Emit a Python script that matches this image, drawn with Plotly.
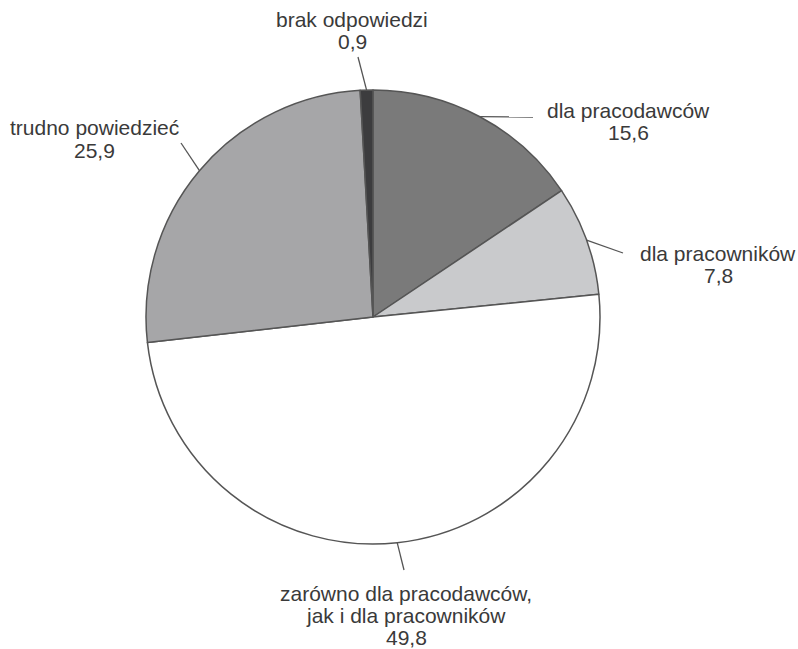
import math
import plotly.graph_objects as go

# Survey answers, clockwise from 12 o'clock
labels = ["dla pracodawców", "dla pracowników",
          "zarówno dla pracodawców, jak i dla pracowników",
          "trudno powiedzieć", "brak odpowiedzi"]
values = [15.6, 7.8, 49.8, 25.9, 0.9]
label_lines = [["dla pracodawców"], ["dla pracowników"],
               ["zarówno dla pracodawców,", "jak i dla pracowników"],
               ["trudno powiedzieć"], ["brak odpowiedzi"]]
colors = ["#7a7a7a", "#c9cacc", "#ffffff", "#a6a6a8", "#3c3c3e"]

W, H = 798, 649
# pie box in pixels (left, top, right, bottom)
box = (145, 90, 601, 544)
cx, cy = (box[0] + box[2]) / 2, (box[1] + box[3]) / 2
R = min(box[2] - box[0], box[3] - box[1]) / 2

# where each leader line ends and where its text block is centred (pixels)
leader_end = [(533, 117), (623, 253), (404, 570), (181, 143), (358, 57)]
text_center = [(628, 110), (718, 253), (406, 593), (94, 128), (352, 20)]
line_gap = 22


def px(x):
    return x / W


def py(y):
    return 1 - y / H


fig = go.Figure(go.Pie(
    labels=labels, values=values, sort=False, direction="clockwise",
    rotation=0, textinfo="none", hoverinfo="label+value",
    marker=dict(colors=colors, line=dict(color="#555555", width=1.5)),
    domain=dict(x=[px(box[0]), px(box[2])], y=[py(box[3]), py(box[1])]),
    showlegend=False,
))

total = sum(values)
cum = 0.0
annotations, shapes = [], []
for i, v in enumerate(values):
    mid = (cum + v / 2) / total * 2 * math.pi
    cum += v
    sx = cx + R * math.sin(mid)
    sy = cy - R * math.cos(mid)
    ex, ey = leader_end[i]
    shapes.append(dict(type="line", xref="paper", yref="paper",
                       x0=px(sx), y0=py(sy), x1=px(ex), y1=py(ey),
                       line=dict(color="#555555", width=1.3)))
    tx, ty = text_center[i]
    rows = label_lines[i] + [f"{v:.1f}".replace(".", ",")]
    for k, row in enumerate(rows):
        annotations.append(dict(
            x=px(tx), y=py(ty + k * line_gap), xref="paper", yref="paper",
            text=row, showarrow=False, xanchor="center", yanchor="middle",
            font=dict(family="Liberation Sans, Arial, sans-serif",
                      size=21, color="#3a3a3a")))

fig.update_layout(
    width=W, height=H, margin=dict(l=0, r=0, t=0, b=0),
    paper_bgcolor="white", plot_bgcolor="white",
    annotations=annotations, shapes=shapes,
)

fig.write_html("out.html")
